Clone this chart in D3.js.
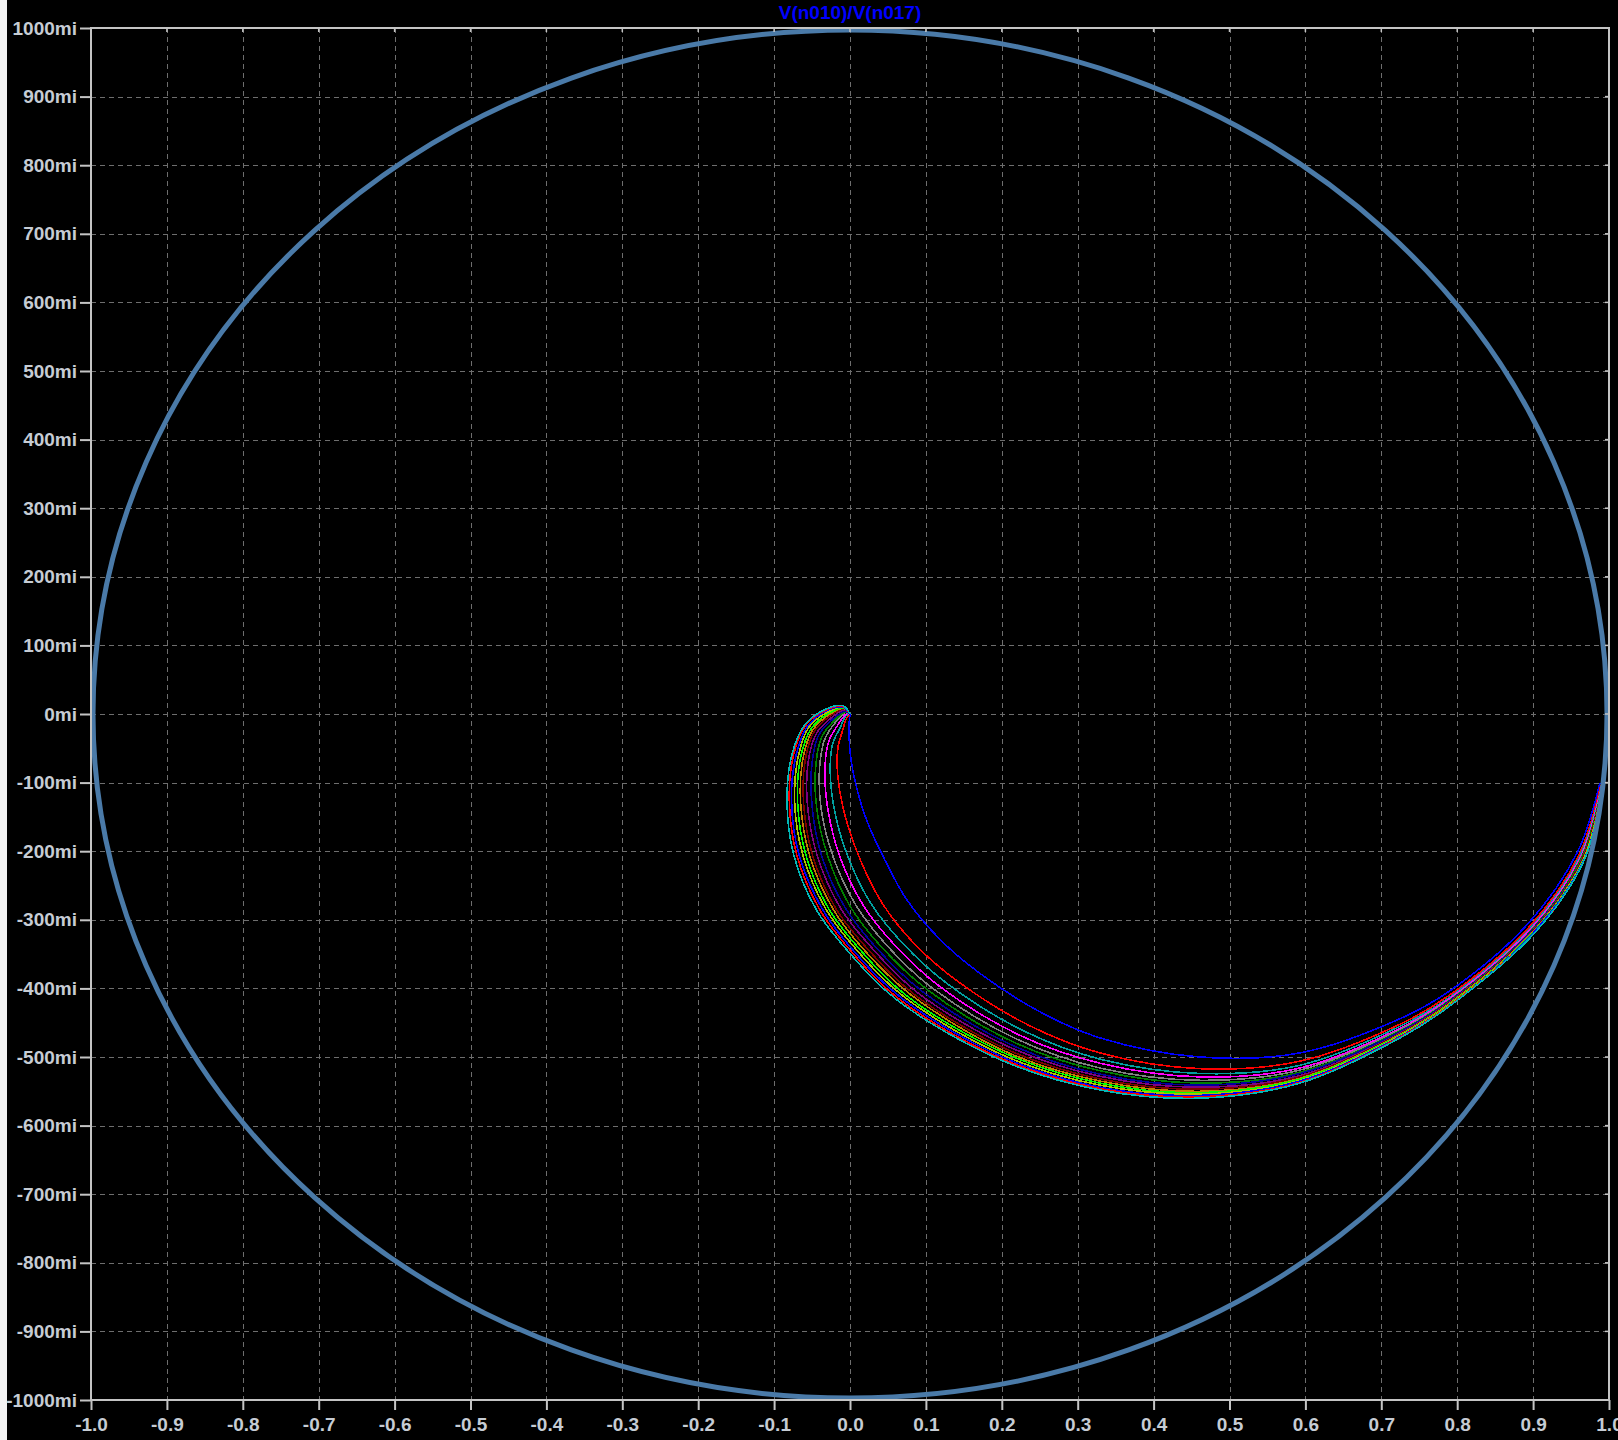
<!DOCTYPE html>
<html>
<head>
<meta charset="utf-8">
<script src="https://cdn.jsdelivr.net/npm/d3@7"></script>
<style>
  html, body { margin: 0; padding: 0; background: #000; overflow: hidden; }
  svg { display: block; }
</style>
</head>
<body>
<svg id="chart" width="1618" height="1440"></svg>
<script>
// V(n010)/V(n017) plotted as imaginary vs real part, one trace per .step run

const titleText = "V(n010)/V(n017)";

const xTicks = [-1.0, -0.9, -0.8, -0.7, -0.6, -0.5, -0.4, -0.3, -0.2, -0.1, 0.0, 0.1, 0.2, 0.3, 0.4, 0.5, 0.6, 0.7, 0.8, 0.9, 1.0];
const xTickLabels = ["-1.0", "-0.9", "-0.8", "-0.7", "-0.6", "-0.5", "-0.4", "-0.3", "-0.2", "-0.1", "0.0", "0.1", "0.2", "0.3", "0.4", "0.5", "0.6", "0.7", "0.8", "0.9", "1.0"];
const yTicks = [1.0, 0.9, 0.8, 0.7, 0.6, 0.5, 0.4, 0.3, 0.2, 0.1, 0.0, -0.1, -0.2, -0.3, -0.4, -0.5, -0.6, -0.7, -0.8, -0.9, -1.0];
const yTickLabels = ["1000mi", "900mi", "800mi", "700mi", "600mi", "500mi", "400mi", "300mi", "200mi", "100mi", "0mi", "-100mi", "-200mi", "-300mi", "-400mi", "-500mi", "-600mi", "-700mi", "-800mi", "-900mi", "-1000mi"];

// Reference unit circle (|H| = 1)
const unitRadius = 1;

// Step traces: [real, imag] along increasing frequency
const trace01 = [[0,0],[-0.001,-0.012],[-0.001,-0.038],[0.001,-0.064],[0.008,-0.104],[0.022,-0.155],[0.046,-0.213],[0.075,-0.271],[0.119,-0.329],[0.171,-0.378],[0.250,-0.434],[0.329,-0.472],[0.461,-0.500],[0.593,-0.494],[0.725,-0.444],[0.791,-0.403],[0.893,-0.306],[0.959,-0.200],[0.988,-0.101]];
const trace02 = [[0,0],[-0.004,-0.005],[-0.010,-0.025],[-0.016,-0.050],[-0.016,-0.091],[-0.007,-0.146],[0.013,-0.211],[0.042,-0.275],[0.084,-0.334],[0.141,-0.389],[0.236,-0.454],[0.329,-0.494],[0.461,-0.517],[0.593,-0.506],[0.725,-0.452],[0.791,-0.409],[0.896,-0.309],[0.961,-0.204],[0.989,-0.104]];
const trace03 = [[0,0],[-0.005,-0.002],[-0.013,-0.020],[-0.023,-0.044],[-0.026,-0.085],[-0.020,-0.143],[-0.002,-0.210],[0.028,-0.277],[0.070,-0.335],[0.128,-0.393],[0.229,-0.462],[0.329,-0.503],[0.461,-0.524],[0.593,-0.512],[0.725,-0.455],[0.791,-0.412],[0.897,-0.311],[0.962,-0.206],[0.990,-0.105]];
const trace04 = [[0,0],[-0.005,0.000],[-0.016,-0.016],[-0.028,-0.040],[-0.033,-0.081],[-0.029,-0.140],[-0.013,-0.209],[0.017,-0.278],[0.059,-0.337],[0.118,-0.397],[0.225,-0.469],[0.329,-0.509],[0.461,-0.529],[0.593,-0.516],[0.725,-0.458],[0.791,-0.414],[0.898,-0.312],[0.963,-0.207],[0.990,-0.106]];
const trace05 = [[0,0],[-0.006,0.002],[-0.019,-0.012],[-0.033,-0.036],[-0.040,-0.077],[-0.038,-0.138],[-0.022,-0.209],[0.008,-0.279],[0.049,-0.338],[0.109,-0.400],[0.220,-0.474],[0.329,-0.516],[0.461,-0.534],[0.593,-0.519],[0.725,-0.460],[0.791,-0.416],[0.899,-0.313],[0.964,-0.208],[0.990,-0.107]];
const trace06 = [[0,0],[-0.006,0.003],[-0.020,-0.009],[-0.037,-0.033],[-0.045,-0.074],[-0.044,-0.136],[-0.029,-0.208],[0.000,-0.280],[0.041,-0.339],[0.102,-0.402],[0.217,-0.479],[0.329,-0.520],[0.461,-0.538],[0.593,-0.522],[0.725,-0.462],[0.791,-0.417],[0.899,-0.314],[0.964,-0.209],[0.991,-0.107]];
const trace07 = [[0,0],[-0.007,0.004],[-0.022,-0.007],[-0.041,-0.030],[-0.050,-0.071],[-0.050,-0.134],[-0.037,-0.208],[-0.007,-0.281],[0.034,-0.340],[0.096,-0.405],[0.214,-0.483],[0.329,-0.525],[0.461,-0.541],[0.593,-0.524],[0.725,-0.463],[0.791,-0.418],[0.900,-0.314],[0.965,-0.210],[0.991,-0.108]];
const trace08 = [[0,0],[-0.007,0.006],[-0.024,-0.005],[-0.044,-0.028],[-0.055,-0.069],[-0.056,-0.133],[-0.043,-0.207],[-0.013,-0.282],[0.028,-0.340],[0.090,-0.407],[0.211,-0.486],[0.329,-0.528],[0.461,-0.544],[0.593,-0.527],[0.725,-0.465],[0.791,-0.419],[0.900,-0.315],[0.965,-0.210],[0.991,-0.108]];
const trace09 = [[0,0],[-0.008,0.007],[-0.025,-0.002],[-0.047,-0.025],[-0.059,-0.067],[-0.061,-0.132],[-0.049,-0.207],[-0.019,-0.283],[0.022,-0.341],[0.085,-0.409],[0.209,-0.490],[0.329,-0.532],[0.461,-0.547],[0.593,-0.529],[0.725,-0.466],[0.791,-0.420],[0.901,-0.315],[0.965,-0.211],[0.991,-0.109]];
const trace10 = [[0,0],[-0.008,0.008],[-0.026,0.000],[-0.049,-0.023],[-0.062,-0.065],[-0.065,-0.130],[-0.053,-0.207],[-0.023,-0.283],[0.017,-0.342],[0.081,-0.410],[0.207,-0.493],[0.329,-0.535],[0.461,-0.550],[0.593,-0.531],[0.725,-0.467],[0.791,-0.421],[0.901,-0.316],[0.966,-0.212],[0.991,-0.109]];
const trace11 = [[0,0],[-0.008,0.009],[-0.028,0.001],[-0.051,-0.021],[-0.065,-0.063],[-0.069,-0.129],[-0.058,-0.206],[-0.028,-0.284],[0.012,-0.342],[0.076,-0.412],[0.205,-0.495],[0.329,-0.538],[0.461,-0.552],[0.593,-0.532],[0.725,-0.468],[0.791,-0.422],[0.902,-0.316],[0.966,-0.212],[0.992,-0.110]];
const trace12 = [[0,0],[-0.008,0.010],[-0.029,0.003],[-0.054,-0.019],[-0.068,-0.061],[-0.073,-0.128],[-0.062,-0.206],[-0.032,-0.284],[0.008,-0.343],[0.072,-0.413],[0.203,-0.498],[0.329,-0.541],[0.461,-0.554],[0.593,-0.534],[0.725,-0.469],[0.791,-0.423],[0.902,-0.317],[0.966,-0.213],[0.992,-0.110]];
const trace13 = [[0,0],[-0.009,0.010],[-0.030,0.005],[-0.056,-0.018],[-0.071,-0.060],[-0.077,-0.127],[-0.067,-0.206],[-0.036,-0.285],[0.003,-0.343],[0.069,-0.415],[0.201,-0.500],[0.329,-0.544],[0.461,-0.556],[0.593,-0.535],[0.725,-0.470],[0.791,-0.424],[0.902,-0.317],[0.967,-0.213],[0.992,-0.110]];
const trace14 = [[0,0],[-0.009,0.011],[-0.031,0.006],[-0.058,-0.016],[-0.074,-0.058],[-0.080,-0.126],[-0.070,-0.206],[-0.040,-0.285],[0.000,-0.344],[0.065,-0.416],[0.199,-0.502],[0.329,-0.546],[0.461,-0.558],[0.593,-0.537],[0.725,-0.471],[0.791,-0.424],[0.903,-0.318],[0.967,-0.214],[0.992,-0.111]];
const trace15 = [[0,0],[-0.009,0.012],[-0.032,0.007],[-0.059,-0.015],[-0.076,-0.057],[-0.083,-0.125],[-0.074,-0.206],[-0.044,-0.286],[-0.004,-0.344],[0.062,-0.417],[0.198,-0.504],[0.329,-0.548],[0.461,-0.560],[0.593,-0.538],[0.725,-0.472],[0.791,-0.425],[0.903,-0.318],[0.967,-0.214],[0.992,-0.111]];

const stepColors = ["#0000ff", "#ff0000", "#00a0a0", "#ff00ff", "#808080", "#008000", "#0000a0", "#800080", "#800000", "#c08000", "#00ff00", "#b0c000", "#0000ff", "#ff0000", "#00b8b8"];

const traces = [trace01, trace02, trace03, trace04, trace05, trace06, trace07, trace08, trace09, trace10, trace11, trace12, trace13, trace14, trace15];

// ---- layout ----
const svg = d3.select("#chart");
const W = 1618, H = 1440;
const plot = { left: 91, right: 1609, top: 28, bottom: 1400 };

svg.append("rect").attr("width", W).attr("height", H).attr("fill", "#000");
svg.append("rect").attr("x", 0).attr("y", 0).attr("width", 7).attr("height", H).attr("fill", "#f4f4f4");

const x = d3.scaleLinear().domain([-1, 1]).range([plot.left, plot.right]);
const y = d3.scaleLinear().domain([-1, 1]).range([plot.bottom, plot.top]);

const axisColor = "#c4c4c4";
const labelColor = "#c6ccd4";
const fontFamily = "Arial, 'Liberation Sans', sans-serif";

// grid
const grid = svg.append("g").attr("stroke", "#6e6e6e").attr("stroke-width", 1).attr("stroke-dasharray", "5,4");
grid.selectAll("line.v").data(xTicks.filter(t => Math.abs(t) < 0.999)).join("line")
  .attr("class", "v")
  .attr("x1", d => Math.round(x(d)) + 0.5).attr("x2", d => Math.round(x(d)) + 0.5)
  .attr("y1", plot.top).attr("y2", plot.bottom);
grid.selectAll("line.h").data(yTicks.filter(t => Math.abs(t) < 0.999)).join("line")
  .attr("class", "h")
  .attr("y1", d => Math.round(y(d)) + 0.5).attr("y2", d => Math.round(y(d)) + 0.5)
  .attr("x1", plot.left).attr("x2", plot.right);

// step traces
const line = d3.line()
  .x(d => x(d[0]))
  .y(d => y(d[1]))
  .curve(d3.curveCatmullRom.alpha(0.5));

svg.append("g").selectAll("path").data(traces).join("path")
  .attr("d", d => line(d))
  .attr("fill", "none")
  .attr("stroke", (d, i) => stepColors[i])
  .attr("stroke-width", 1.6)
  .attr("shape-rendering", "crispEdges");

// unit circle
svg.append("ellipse")
  .attr("cx", x(0)).attr("cy", y(0))
  .attr("rx", x(unitRadius) - x(0) - 2)
  .attr("ry", y(0) - y(unitRadius) - 2)
  .attr("fill", "none")
  .attr("stroke", "#4a7aa8")
  .attr("stroke-width", 5);

// axes
const yAxis = d3.axisLeft(y).tickValues(yTicks).tickFormat((d, i) => yTickLabels[i]).tickSize(11).tickPadding(3);
const xAxis = d3.axisBottom(x).tickValues(xTicks).tickFormat((d, i) => xTickLabels[i]).tickSize(10).tickPadding(6);

const gy = svg.append("g").attr("transform", `translate(${plot.left},0)`).call(yAxis);
const gx = svg.append("g").attr("transform", `translate(0,${plot.bottom})`).call(xAxis);

[gx, gy].forEach(g => {
  g.select(".domain").remove();
  g.selectAll(".tick line").attr("stroke", axisColor).attr("stroke-width", 2);
  g.selectAll(".tick text")
    .attr("fill", labelColor)
    .attr("font-family", fontFamily)
    .attr("font-weight", "bold")
    .attr("font-size", 19);
});
gx.selectAll(".tick text").attr("dy", "0.78em");

// frame
svg.append("rect")
  .attr("x", plot.left).attr("y", plot.top)
  .attr("width", plot.right - plot.left).attr("height", plot.bottom - plot.top)
  .attr("fill", "none").attr("stroke", axisColor).attr("stroke-width", 2);

// small inner ticks on top and right edges
svg.append("g").selectAll("line").data(xTicks).join("line")
  .attr("x1", d => x(d)).attr("x2", d => x(d))
  .attr("y1", plot.top).attr("y2", plot.top + 4)
  .attr("stroke", axisColor).attr("stroke-width", 1.5);
svg.append("g").selectAll("line").data(yTicks).join("line")
  .attr("y1", d => y(d)).attr("y2", d => y(d))
  .attr("x1", plot.right - 4).attr("x2", plot.right)
  .attr("stroke", axisColor).attr("stroke-width", 1.5);

// title
svg.append("text")
  .attr("x", x(0)).attr("y", 19)
  .attr("text-anchor", "middle")
  .attr("fill", "#0000ff")
  .attr("font-family", fontFamily)
  .attr("font-weight", "bold")
  .attr("font-size", 19)
  .text(titleText);
</script>
</body>
</html>
